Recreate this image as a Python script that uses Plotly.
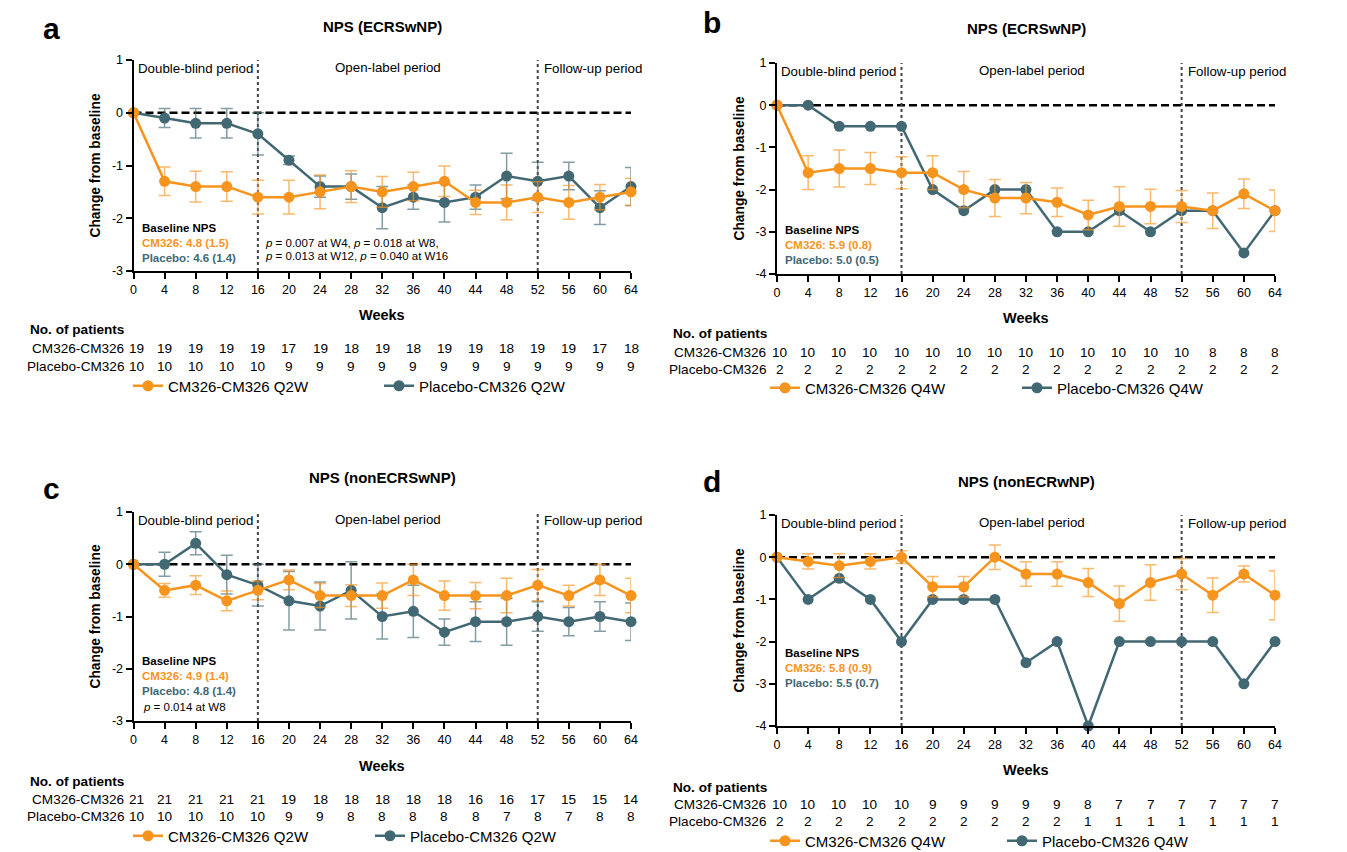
import plotly.graph_objects as go

W, H = 1347, 852

weeks = [0, 4, 8, 12, 16, 20, 24, 28, 32, 36, 40, 44, 48, 52, 56, 60, 64]

# ---------------- Panel a: NPS (ECRSwNP), Q2W ----------------
a_cm = [0, -1.3, -1.4, -1.4, -1.6, -1.6, -1.5, -1.4, -1.5, -1.4, -1.3, -1.7, -1.7, -1.6, -1.7, -1.6, -1.5]
a_cm_err = [0, 0.27, 0.29, 0.28, 0.32, 0.32, 0.32, 0.30, 0.29, 0.27, 0.29, 0.23, 0.33, 0.29, 0.32, 0.24, 0.26]
a_pl = [0, -0.1, -0.2, -0.2, -0.4, -0.9, -1.4, -1.4, -1.8, -1.6, -1.7, -1.6, -1.2, -1.3, -1.2, -1.8, -1.4]
a_pl_err = [0, 0.18, 0.28, 0.28, 0.40, 0.08, 0.20, 0.24, 0.40, 0.23, 0.37, 0.23, 0.43, 0.36, 0.26, 0.32, 0.36]
a_n_cm = [19, 19, 19, 19, 19, 17, 19, 18, 19, 18, 19, 19, 18, 19, 19, 17, 18]
a_n_pl = [10, 10, 10, 10, 10, 9, 9, 9, 9, 9, 9, 9, 9, 9, 9, 9, 9]

# ---------------- Panel b: NPS (ECRSwNP), Q4W ----------------
b_cm = [0, -1.6, -1.5, -1.5, -1.6, -1.6, -2.0, -2.2, -2.2, -2.3, -2.6, -2.4, -2.4, -2.4, -2.5, -2.1, -2.5]
b_cm_err = [0, 0.40, 0.44, 0.38, 0.38, 0.40, 0.43, 0.44, 0.37, 0.34, 0.35, 0.47, 0.41, 0.38, 0.42, 0.35, 0.49]
b_pl = [0, 0, -0.5, -0.5, -0.5, -2.0, -2.5, -2.0, -2.0, -3.0, -3.0, -2.5, -3.0, -2.5, -2.5, -3.5, -2.5]
b_n_cm = [10, 10, 10, 10, 10, 10, 10, 10, 10, 10, 10, 10, 10, 10, 8, 8, 8]
b_n_pl = [2, 2, 2, 2, 2, 2, 2, 2, 2, 2, 2, 2, 2, 2, 2, 2, 2]

# ---------------- Panel c: NPS (nonECRSwNP), Q2W ----------------
c_cm = [0, -0.5, -0.4, -0.7, -0.5, -0.3, -0.6, -0.6, -0.6, -0.3, -0.6, -0.6, -0.6, -0.4, -0.6, -0.3, -0.6]
c_cm_err = [0, 0.13, 0.18, 0.19, 0.18, 0.19, 0.23, 0.21, 0.24, 0.30, 0.28, 0.25, 0.33, 0.30, 0.20, 0.30, 0.33]
c_pl = [0, 0, 0.4, -0.2, -0.4, -0.7, -0.8, -0.5, -1.0, -0.9, -1.3, -1.1, -1.1, -1.0, -1.1, -1.0, -1.1]
c_pl_err = [0, 0.23, 0.22, 0.37, 0.40, 0.56, 0.46, 0.55, 0.43, 0.50, 0.25, 0.38, 0.45, 0.28, 0.27, 0.28, 0.36]
c_n_cm = [21, 21, 21, 21, 21, 19, 18, 18, 18, 18, 18, 16, 16, 17, 15, 15, 14]
c_n_pl = [10, 10, 10, 10, 10, 9, 9, 8, 8, 8, 8, 8, 7, 8, 7, 8, 8]

# ---------------- Panel d: NPS (nonECRwNP), Q4W ----------------
d_cm = [0, -0.1, -0.2, -0.1, 0.0, -0.7, -0.7, 0.0, -0.4, -0.4, -0.6, -1.1, -0.6, -0.4, -0.9, -0.4, -0.9]
d_cm_err = [0, 0.18, 0.28, 0.18, 0.15, 0.24, 0.24, 0.29, 0.29, 0.29, 0.33, 0.42, 0.42, 0.37, 0.41, 0.19, 0.58]
d_pl = [0, -1, -0.5, -1, -2, -1, -1, -1, -2.5, -2, -4, -2, -2, -2, -2, -3, -2]
d_n_cm = [10, 10, 10, 10, 10, 9, 9, 9, 9, 9, 8, 7, 7, 7, 7, 7, 7]
d_n_pl = [2, 2, 2, 2, 2, 2, 2, 2, 2, 2, 1, 1, 1, 1, 1, 1, 1]

ORANGE = "#F7941D"
TEAL = "#426873"
ORANGE_ERR = "rgba(247,148,29,0.65)"
TEAL_ERR = "rgba(66,104,115,0.65)"
FONT = "Arial, Liberation Sans, sans-serif"

panels = [
    dict(key="a", title="NPS (ECRSwNP)", box=(133.5, 631, 60, 271), yr=(-3, 1),
         cm=a_cm, cme=a_cm_err, pl=a_pl, ple=a_pl_err, ncm=a_n_cm, npl=a_n_pl,
         dose="Q2W", base=("4.8 (1.5)", "4.6 (1.4)"), base_y=-2.18,
         ptext=["<i>p</i> = 0.007 at W4, <i>p</i> = 0.018 at W8,",
                "<i>p</i> = 0.013 at W12, <i>p</i> = 0.040 at W16"], ptext_x=16.6,
         letter_xy=(52, 28), title_y=27, weeks_y=315, nop_y=330, row_y=(348, 366), leg_y=386,
         nop_x=28, lab_x=126, leg_x=(128, 379)),
    dict(key="b", title="NPS (ECRSwNP)", box=(777, 1275, 63, 274), yr=(-4, 1),
         cm=b_cm, cme=b_cm_err, pl=b_pl, ple=None, ncm=b_n_cm, npl=b_n_pl,
         dose="Q4W", base=("5.9 (0.8)", "5.0 (0.5)"), base_y=-2.95,
         ptext=[], ptext_x=0,
         letter_xy=(712, 22), title_y=28, weeks_y=318, nop_y=333, row_y=(352, 369), leg_y=388,
         nop_x=671, lab_x=768, leg_x=(765, 1017)),
    dict(key="c", title="NPS (nonECRSwNP)", box=(133.5, 631, 512, 721), yr=(-3, 1),
         cm=c_cm, cme=c_cm_err, pl=c_pl, ple=c_pl_err, ncm=c_n_cm, npl=c_n_pl,
         dose="Q2W", base=("4.9 (1.4)", "4.8 (1.4)"), base_y=-1.85,
         ptext=[None, None, None, "<i>p</i> = 0.014 at W8"], ptext_x=0.9,
         letter_xy=(52, 488), title_y=477, weeks_y=766, nop_y=781, row_y=(799, 816), leg_y=836,
         nop_x=28, lab_x=126, leg_x=(128, 370)),
    dict(key="d", title="NPS (nonECRwNP)", box=(777, 1275, 515, 726), yr=(-4, 1),
         cm=d_cm, cme=d_cm_err, pl=d_pl, ple=None, ncm=d_n_cm, npl=d_n_pl,
         dose="Q4W", base=("5.8 (0.9)", "5.5 (0.7)"), base_y=-2.28,
         ptext=[], ptext_x=0,
         letter_xy=(712, 482), title_y=481, weeks_y=770, nop_y=787, row_y=(804, 821), leg_y=841,
         nop_x=671, lab_x=768, leg_x=(765, 1002)),
]

fig = go.Figure()
annotations = []
shapes = []
layout_axes = {}


def px(x):
    return x / W


def py(y):
    return 1 - y / H


def legend_cfg(x, y):
    return dict(
        orientation="h", x=px(x), y=py(y), xanchor="left", yanchor="middle",
        xref="paper", yref="paper", bgcolor="rgba(0,0,0,0)",
        font=dict(family=FONT, size=15, color="black"), itemwidth=30,
    )


for i, p in enumerate(panels):
    n = "" if i == 0 else str(i + 1)
    xa, ya = "x" + n, "y" + n
    xl, yl = "xaxis" + n, "yaxis" + n
    leg_cm = "legend" if i == 0 else "legend" + str(2 * i + 1)
    leg_pl = "legend" + str(2 * i + 2)
    x0, x1, y0, y1 = p["box"]
    ymin, ymax = p["yr"]
    yt = list(range(ymin, ymax + 1))
    layout_axes[xl] = dict(
        domain=[px(x0), px(x1)], range=[0, 64], anchor=ya, automargin=False,
        tickvals=weeks, ticktext=[str(w) for w in weeks],
        showline=True, linecolor="black", linewidth=2, ticks="outside",
        ticklen=6, tickwidth=1.5, tickcolor="black", showgrid=False, zeroline=False,
        tickfont=dict(family=FONT, size=12.5, color="black"),
    )
    layout_axes[yl] = dict(
        domain=[py(y1), py(y0)], range=[ymin, ymax], anchor=xa, automargin=False,
        tickvals=yt, ticktext=[str(v) for v in yt],
        showline=True, linecolor="black", linewidth=2, ticks="outside",
        ticklen=6, tickwidth=1.5, tickcolor="black", showgrid=False, zeroline=False,
        tickfont=dict(family=FONT, size=12.5, color="black"),
        title=dict(text="<b>Change from baseline</b>", standoff=8,
                   font=dict(family=FONT, size=13.8, color="black")),
    )

    # teal (placebo) first so orange is drawn on top
    fig.add_trace(go.Scatter(
        x=weeks, y=p["pl"], mode="lines+markers", xaxis=xa, yaxis=ya,
        name="Placebo-CM326 " + p["dose"], legend=leg_pl,
        line=dict(color=TEAL, width=2.5), marker=dict(color=TEAL, size=11),
        error_y=(dict(type="data", array=p["ple"], color=TEAL_ERR, thickness=1.5, width=6)
                 if p["ple"] is not None else None),
        cliponaxis=False,
    ))
    fig.add_trace(go.Scatter(
        x=weeks, y=p["cm"], mode="lines+markers", xaxis=xa, yaxis=ya,
        name="CM326-CM326 " + p["dose"], legend=leg_cm,
        line=dict(color=ORANGE, width=2.5), marker=dict(color=ORANGE, size=11),
        error_y=dict(type="data", array=p["cme"], color=ORANGE_ERR, thickness=1.5, width=6),
        cliponaxis=False,
    ))

    layout_axes[leg_cm] = legend_cfg(p["leg_x"][0], p["leg_y"])
    layout_axes[leg_pl] = legend_cfg(p["leg_x"][1], p["leg_y"])

    # reference lines
    shapes.append(dict(type="line", xref=xa, yref=ya, x0=0, x1=64, y0=0, y1=0,
                       line=dict(color="black", width=2.5, dash="8px,4px"), layer="below"))
    for vx in (16, 52):
        shapes.append(dict(type="line", xref=xa, yref=ya, x0=vx, x1=vx, y0=ymin, y1=ymax,
                           line=dict(color="#444444", width=2, dash="dot"), layer="below"))

    # period labels
    fper = dict(family=FONT, size=13.3, color="black")
    annotations += [
        dict(text="Double-blind period", xref=xa, yref=ya, x=0, y=ymax, xanchor="left",
             yanchor="top", xshift=2, yshift=1, showarrow=False, font=fper),
        dict(text="Open-label period", xref=xa, yref=ya, x=32.8, y=ymax, xanchor="center",
             yanchor="top", yshift=2, showarrow=False, font=fper),
        dict(text="Follow-up period", xref=xa, yref=ya, x=52, y=ymax, xanchor="left",
             yanchor="top", xshift=4, yshift=1, showarrow=False, font=fper),
    ]

    # baseline box
    unit = (y1 - y0) / (ymax - ymin)
    by = p["base_y"]
    fb = dict(family=FONT, size=11.5, color="black")
    annotations += [
        dict(text="<b>Baseline NPS</b>", xref=xa, yref=ya, x=0.8, y=by, xanchor="left",
             yanchor="middle", showarrow=False, font=fb),
        dict(text="<b>CM326: " + p["base"][0] + "</b>", xref=xa, yref=ya, x=0.8,
             y=by - 15 / unit, xanchor="left", yanchor="middle", showarrow=False,
             font=dict(family=FONT, size=11.5, color=ORANGE)),
        dict(text="<b>Placebo: " + p["base"][1] + "</b>", xref=xa, yref=ya, x=0.8,
             y=by - 30 / unit, xanchor="left", yanchor="middle", showarrow=False,
             font=dict(family=FONT, size=11.5, color=TEAL)),
    ]
    if p["key"] == "a":
        for k, t in enumerate(p["ptext"]):
            annotations.append(dict(text=t, xref=xa, yref=ya, x=p["ptext_x"],
                                    y=by - (15 + 13 * k) / unit, xanchor="left",
                                    yanchor="middle", showarrow=False,
                                    font=dict(family=FONT, size=11.5, color="black")))
    if p["key"] == "c":
        annotations.append(dict(text=p["ptext"][3], xref=xa, yref=ya, x=p["ptext_x"],
                                y=by - 46 / unit, xanchor="left", yanchor="middle",
                                showarrow=False,
                                font=dict(family=FONT, size=11.5, color="black")))

    # titles, letters, table
    ftab = dict(family=FONT, size=13.6, color="black")
    annotations += [
        dict(text="<b>" + p["title"] + "</b>", xref="paper", yref="paper",
             x=px((x0 + x1) / 2), y=py(p["title_y"]), xanchor="center", yanchor="middle",
             showarrow=False, font=dict(family=FONT, size=15, color="black")),
        dict(text="<b>" + p["key"] + "</b>", xref="paper", yref="paper",
             x=px(p["letter_xy"][0]), y=py(p["letter_xy"][1]), xanchor="center",
             yanchor="middle", showarrow=False, font=dict(family=FONT, size=30, color="black")),
        dict(text="<b>Weeks</b>", xref="paper", yref="paper", x=px((x0 + x1) / 2),
             y=py(p["weeks_y"]), xanchor="center", yanchor="middle", showarrow=False,
             font=dict(family=FONT, size=14.5, color="black")),
        dict(text="<b>No. of patients</b>", xref="paper", yref="paper", x=px(p["nop_x"]),
             y=py(p["nop_y"]), xanchor="left", yanchor="middle", showarrow=False,
             font=dict(family=FONT, size=13.6, color="black")),
        dict(text="CM326-CM326", xref="paper", yref="paper", x=px(p["lab_x"]),
             y=py(p["row_y"][0]), xanchor="right", yanchor="middle", showarrow=False,
             font=ftab),
        dict(text="Placebo-CM326", xref="paper", yref="paper", x=px(p["lab_x"]),
             y=py(p["row_y"][1]), xanchor="right", yanchor="middle", showarrow=False,
             font=ftab),
    ]
    for w, ncm, npl in zip(weeks, p["ncm"], p["npl"]):
        annotations.append(dict(text=str(ncm), xref=xa, yref="paper", x=w,
                                y=py(p["row_y"][0]), xanchor="center", yanchor="middle",
                                xshift=(3 if w == 0 else 0), showarrow=False, font=ftab))
        annotations.append(dict(text=str(npl), xref=xa, yref="paper", x=w,
                                y=py(p["row_y"][1]), xanchor="center", yanchor="middle",
                                xshift=(3 if w == 0 else 0), showarrow=False, font=ftab))

fig.update_layout(
    width=W, height=H, margin=dict(l=0, r=0, t=0, b=0, pad=0, autoexpand=False),
    paper_bgcolor="white", plot_bgcolor="white",
    font=dict(family=FONT, size=12, color="black"),
    annotations=annotations, shapes=shapes, showlegend=True,
    **layout_axes,
)

fig.write_html(
    "out.html",
    config={"displayModeBar": False},
    post_script="document.body.style.margin='0';document.body.style.overflow='hidden';",
)
